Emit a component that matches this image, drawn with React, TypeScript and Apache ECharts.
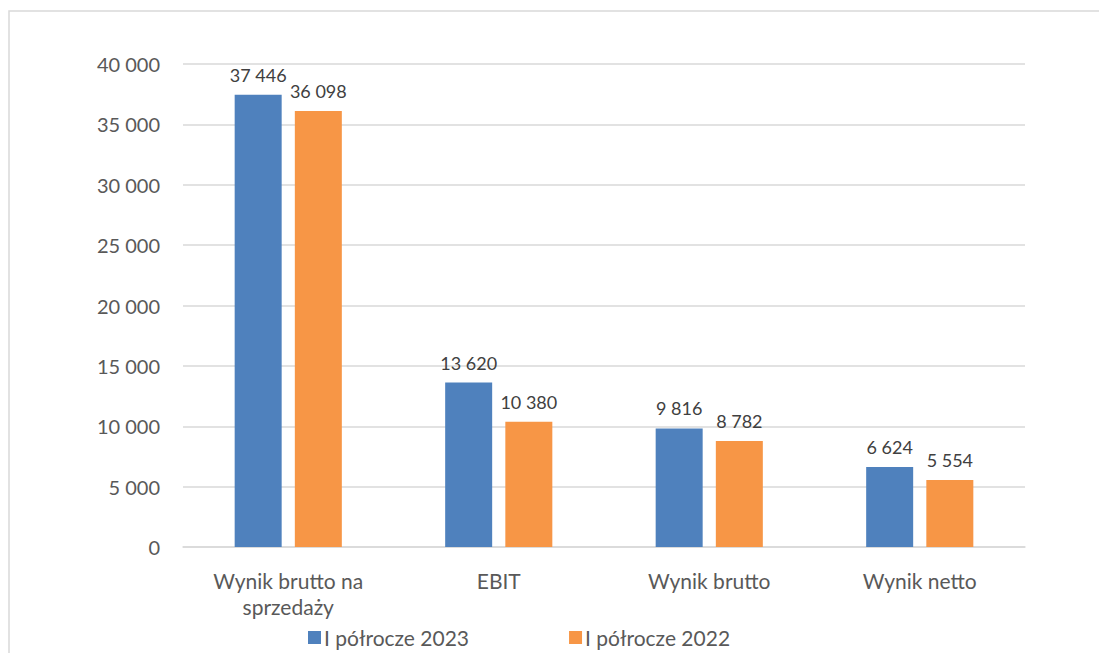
import React, { useEffect, useRef } from "react";
import * as echarts from "echarts";

const categories = ["Wynik brutto na\nsprzedaży", "EBIT", "Wynik brutto", "Wynik netto"];
const series2023 = [37446, 13620, 9816, 6624];
const series2022 = [36098, 10380, 8782, 5554];
const seriesNames = ["I półrocze 2023", "I półrocze 2022"];
const yTicks = { min: 0, max: 40000, interval: 5000 };

const fmt = (v: number) => String(Math.round(v)).replace(/\B(?=(\d{3})+(?!\d))/g, " ");
const FONT = "Lato, 'Open Sans', sans-serif";

export default function App() {
  const ref = useRef<HTMLDivElement>(null);
  useEffect(() => {
    if (!ref.current) return;
    const chart = echarts.init(ref.current, undefined, { renderer: "svg" });
    const label = {
      show: true,
      position: "top" as const,
      distance: 11,
      color: "#404040",
      fontSize: 18,
      fontFamily: FONT,
      formatter: (p: any) => fmt(p.value),
    };
    chart.setOption({
      animation: false,
      textStyle: { fontFamily: FONT },
      graphic: [
        {
          type: "rect",
          shape: { x: 9, y: 11, width: 1200, height: 800 },
          style: { fill: "none", stroke: "#D9D9D9", lineWidth: 1.5 },
          silent: true,
          z: -1,
        },
      ],
      grid: { left: 183, right: 74, top: 64, bottom: 106, containLabel: false },
      legend: {
        top: 622,
        left: 303,
        itemWidth: 13,
        itemHeight: 13,
        itemGap: 100,
        icon: "rect",
        textStyle: { color: "#595959", fontSize: 21, fontFamily: FONT, padding: [0, 0, 0, -2] },
        data: seriesNames,
      },
      xAxis: {
        type: "category",
        data: categories,
        axisLine: { show: true, lineStyle: { color: "#D9D9D9", width: 1.5 } },
        axisTick: { show: false },
        axisLabel: { color: "#595959", fontSize: 21, fontFamily: FONT, lineHeight: 26, margin: 20 },
      },
      yAxis: {
        type: "value",
        min: yTicks.min,
        max: yTicks.max,
        interval: yTicks.interval,
        axisLine: { show: false },
        axisTick: { show: false },
        splitLine: { lineStyle: { color: "#D9D9D9", width: 1.5 } },
        axisLabel: { color: "#595959", fontSize: 20, fontFamily: FONT, margin: 23, formatter: (v: number) => fmt(v) },
      },
      series: [
        {
          name: seriesNames[0],
          type: "bar",
          data: series2023,
          barWidth: 47,
          barGap: "28%",
          itemStyle: { color: "#4F81BD" },
          label,
        },
        {
          name: seriesNames[1],
          type: "bar",
          data: series2022,
          barWidth: 47,
          barGap: "28%",
          itemStyle: { color: "#F79646" },
          label,
        },
      ],
    });
    return () => chart.dispose();
  }, []);
  return (
    <div
      ref={ref}
      style={{ position: "fixed", left: 0, top: 0, width: 1099, height: 653, background: "#fff" }}
    />
  );
}
